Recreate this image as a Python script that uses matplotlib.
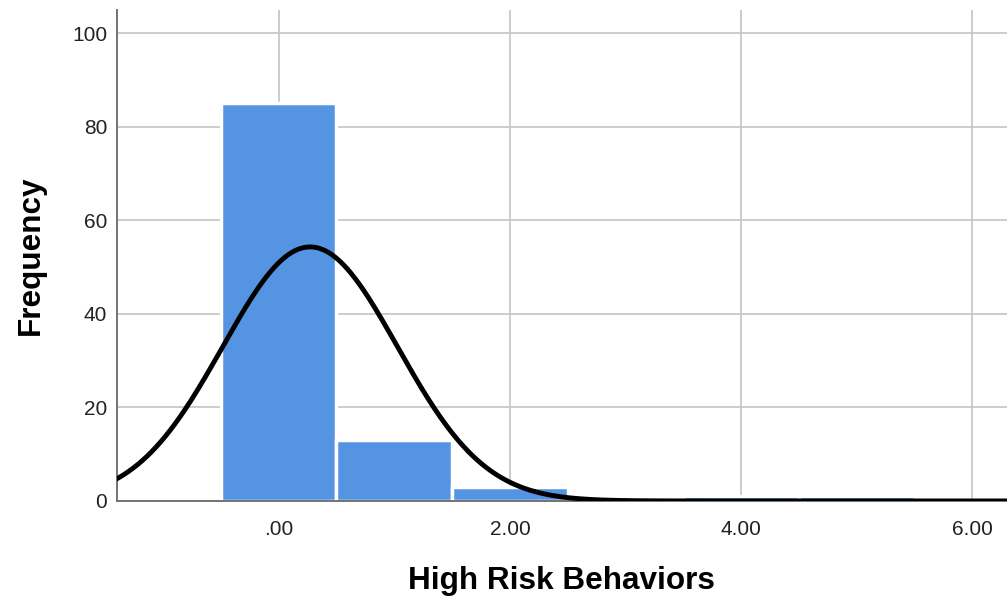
#! /usr/bin/env python3

import numpy as np
import matplotlib
matplotlib.use('Agg')
import matplotlib.pyplot as plt

# histogram data
bin_centers = [0, 1, 2, 3, 4, 5]
counts = [85, 13, 3, 0, 1, 1]
xticks = [0, 2, 4, 6]
xtick_labels = ['.00', '2.00', '4.00', '6.00']
yticks = [0, 20, 40, 60, 80, 100]

plt.rcParams['font.family'] = ['Liberation Sans', 'DejaVu Sans']

fig = plt.figure(figsize=(10.07, 6.05), dpi=100)
ax = fig.add_axes([0.116, 0.172, 0.884, 0.811])

ax.bar(bin_centers, counts, width=1.0, color='#5594e3', edgecolor='white',
       linewidth=2.5, zorder=2)

# normal curve fitted to the binned data
vals = np.repeat(bin_centers, counts)
mu = vals.mean()
sd = vals.std(ddof=1)
xs = np.linspace(-1.5, 6.5, 600)
ys = len(vals) * np.exp(-0.5 * ((xs - mu) / sd) ** 2) / (sd * np.sqrt(2 * np.pi))
ax.plot(xs, ys, color='black', linewidth=3.5, zorder=3)

ax.set_xlim(-1.40, 6.30)
ax.set_ylim(0, 104.9)
ax.set_xticks(xticks)
ax.set_xticklabels(xtick_labels)
ax.set_yticks(yticks)

ax.grid(True, color='#c8c8c8', linewidth=1.3, zorder=0)
ax.set_axisbelow(True)

for s in ['top', 'right']:
    ax.spines[s].set_visible(False)
for s in ['left', 'bottom']:
    ax.spines[s].set_color('#737373')
    ax.spines[s].set_linewidth(1.4)

ax.tick_params(axis='x', length=0, pad=14, labelsize=15, colors='#222222')
ax.tick_params(axis='y', length=0, pad=7, labelsize=15, colors='#222222')

ax.set_xlabel('High Risk Behaviors', fontsize=22.7, fontweight='bold', labelpad=19)
ax.set_ylabel('Frequency', fontsize=22.7, fontweight='bold', labelpad=19)

fig.savefig('out.png', dpi=100)
